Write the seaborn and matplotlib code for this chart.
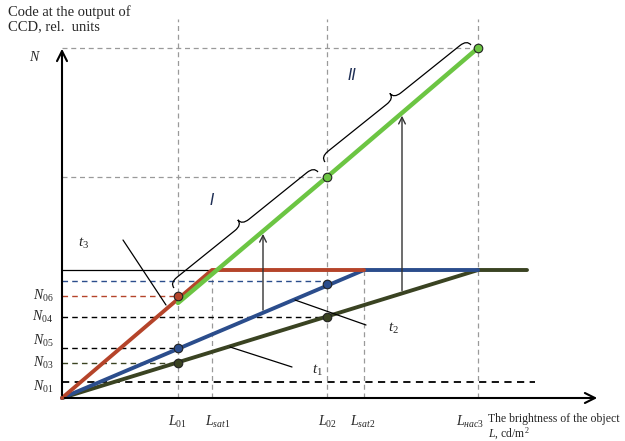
import numpy as np
import pandas as pd
import matplotlib
matplotlib.use('Agg')
import matplotlib.pyplot as plt
from matplotlib.path import Path
from matplotlib.patches import PathPatch
import seaborn as sns

#%% Dados (unidades relativas)
L01, Lsat1, L02, Lsat2, Lnac3 = 11.6, 15.0, 26.5, 30.2, 41.6
L_end = 46.5
N_sat = 12.8
N01, N03, N05, N04, N06 = 1.6, 3.5, 5.0, 8.1, 10.2
N_blue2 = 11.7
N_g1, N_g2, N_g3 = 9.5, 22.1, 35.0

t3_x = [0, Lsat1, Lsat2]
t3_y = [0, N_sat, N_sat]
t2_x = [0, Lsat2, Lnac3]
t2_y = [0, N_sat, N_sat]
t1_x = [0, Lnac3, L_end]
t1_y = [0, N_sat, N_sat]
green_x = [L01, L02, Lnac3]
green_y = [N_g1, N_g2, N_g3]

RED, BLUE, OLIVE, GREEN = '#b5442a', '#2b4d8c', '#3a4322', '#6cc543'
GRAY = '#9a9a9a'

#%% Figura
sns.set_style('white')
plt.rcParams['font.family'] = ['Liberation Serif', 'DejaVu Serif']
plt.rcParams['mathtext.fontset'] = 'custom'
plt.rcParams['mathtext.it'] = 'Liberation Serif:italic'
plt.rcParams['mathtext.rm'] = 'Liberation Serif'

fig = plt.figure(figsize=(6.25, 4.41), dpi=100)
ax = fig.add_axes([0, 0, 1, 1])
ax.set_xlim(-6.2, 56.3)
ax.set_ylim(-4.3, 39.8)
ax.axis('off')

# linhas auxiliares cinzas
top = 37.9
for x, y1 in [(L01, top), (L02, top), (Lnac3, top), (Lsat1, N_sat), (Lsat2, N_sat)]:
    ax.plot([x, x], [0, y1], color=GRAY, lw=0.9, ls=(0, (4, 3)), zorder=1)
for y, x1 in [(N_g3, Lnac3), (N_g2, L02)]:
    ax.plot([0, x1], [y, y], color=GRAY, lw=0.9, ls=(0, (4, 3)), zorder=1)

# níveis N0
ax.plot([0, 47.3], [N01, N01], color='black', lw=1.3, ls=(0, (4, 3)), zorder=1)
ax.plot([0, L01], [N03, N03], color=OLIVE, lw=1.0, ls=(0, (4, 3)), zorder=1)
ax.plot([0, L01], [N05, N05], color='black', lw=1.0, ls=(0, (4, 3)), zorder=1)
ax.plot([0, L02], [N04, N04], color='black', lw=1.0, ls=(0, (4, 3)), zorder=1)
ax.plot([0, L01], [N06, N06], color=RED, lw=1.0, ls=(0, (4, 3)), zorder=1)
ax.plot([0, L02], [N_blue2, N_blue2], color=BLUE, lw=1.0, ls=(0, (4, 3)), zorder=1)
ax.plot([0, L_end], [N_sat, N_sat], color='black', lw=0.9, zorder=1)

# curvas de transferência
for xs, ys, c in [(t1_x, t1_y, OLIVE), (t2_x, t2_y, BLUE), (t3_x, t3_y, RED)]:
    sns.lineplot(x=xs, y=ys, color=c, lw=2.8, sort=False, estimator=None, ax=ax, zorder=3)
sns.lineplot(x=green_x, y=green_y, color=GREEN, lw=3.2, sort=False, estimator=None, ax=ax, zorder=4)

# marcadores
pts = pd.DataFrame({
    'x': [L01, L01, L01, L02, L02, L02, Lnac3],
    'y': [N06, N05, N03, 11.4, N04, N_g2, N_g3],
    'c': [RED, BLUE, OLIVE, BLUE, OLIVE, GREEN, GREEN],
})
for _, r in pts.iterrows():
    sns.scatterplot(x=[r.x], y=[r.y], color=r.c, s=38, edgecolor='#222222', linewidth=0.8, ax=ax, zorder=5)

# eixos com setas
ax.annotate('', xy=(0, 35.2), xytext=(0, 0),
            arrowprops=dict(arrowstyle='->', lw=1.5, color='black', mutation_scale=18), zorder=6)
ax.annotate('', xy=(53.8, 0), xytext=(0, 0),
            arrowprops=dict(arrowstyle='->', lw=1.5, color='black', mutation_scale=18), zorder=6)

# setas verticais até a curva verde
for xa, lx, ly in [(20.1, t2_x, t2_y), (34.0, t1_x, t1_y)]:
    y0 = np.interp(xa, lx, ly)
    y1 = np.interp(xa, green_x, green_y)
    ax.annotate('', xy=(xa, y1), xytext=(xa, y0),
                arrowprops=dict(arrowstyle='->', lw=1.0, color='#333333', mutation_scale=12), zorder=6)

# linhas de chamada t1, t2, t3
for (x0, y0), (x1, y1) in [((6.1, 15.8), (10.4, 9.3)), ((23.3, 9.8), (30.4, 7.3)), ((16.8, 5.1), (23.0, 3.1))]:
    ax.plot([x0, x1], [y0, y1], color='black', lw=0.9, zorder=6)


def chave(ax, p0, p1, h=1.3, a=0.9):
    p0, p1 = np.array(p0), np.array(p1)
    d = p1 - p0
    L = np.hypot(*d)
    u = d / L
    n = np.array([-u[1], u[0]])

    def P(s, k):
        return p0 + u * s + n * k

    verts = [P(0, 0), P(0, h / 2), P(a, h / 2), P(L / 2 - a, h / 2),
             P(L / 2, h / 2), P(L / 2, h), P(L / 2, h / 2), P(L / 2 + a, h / 2),
             P(L - a, h / 2), P(L, h / 2), P(L, 0)]
    codes = [Path.MOVETO, Path.CURVE3, Path.CURVE3, Path.LINETO,
             Path.CURVE3, Path.CURVE3, Path.CURVE3, Path.CURVE3,
             Path.LINETO, Path.CURVE3, Path.CURVE3]
    ax.add_patch(PathPatch(Path(verts, codes), fill=False, lw=0.9, color='black', zorder=6))


chave(ax, (11.2, 11.0), (25.6, 22.6))
chave(ax, (26.3, 23.6), (40.9, 35.3))

# textos
ax.text(-5.4, 39.3, 'Code at the output of\nCCD, rel.  units', fontsize=10.5, va='top', ha='left',
        linespacing=1.15)
ax.text(-2.7, 34.1, '$\\mathit{N}$', fontsize=10, ha='center', va='center')
for lab, y in [('06', N06), ('04', N04), ('05', 5.7), ('03', N03), ('01', 1.1)]:
    ax.text(-1.9, y, '$\\mathit{N_{%s}}$' % lab, fontsize=10, ha='center', va='center')

for lab, x in [('01', L01), ('sat1', 15.6), ('02', L02), ('sat2', 30.1), ('нас3', 40.8)]:
    ax.text(x, -2.4, '$\\mathit{L_{%s}}$' % lab, fontsize=10, ha='center', va='center')
ax.text(42.6, -1.5, 'The brightness of the object\n$\\mathit{L}$, cd/m$^2$', fontsize=8.5,
        ha='left', va='top', linespacing=1.05)

for lab, (x, y) in [('3', (2.2, 15.5)), ('2', (33.1, 7.0)), ('1', (25.5, 2.8))]:
    ax.text(x, y, '$\\mathit{t_{%s}}$' % lab, fontsize=11, ha='center', va='center')

ax.text(15.0, 19.7, 'I', fontsize=11, style='italic', color='#1f2f55', ha='center', va='center',
        family=['DejaVu Sans'])
ax.text(29.0, 32.2, 'II', fontsize=11, style='italic', color='#1f2f55', ha='center', va='center',
        family=['DejaVu Sans'])

plt.savefig('out.png', dpi=100)
